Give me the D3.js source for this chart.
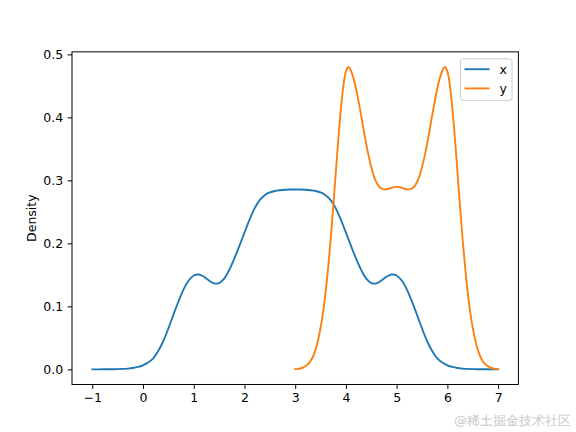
<!DOCTYPE html>
<html>
<head>
<meta charset="utf-8">
<script src="https://cdn.jsdelivr.net/npm/d3@7"></script>
<style>
  html, body { margin: 0; padding: 0; background: #fff; }
  svg { display: block; }
  text { font-family: "DejaVu Sans", sans-serif; }
</style>
</head>
<body>
<div id="chart"></div>
<script>
// ---- data ----
const seriesNames = ["x", "y"];
const seriesColors = ["#1f77b4", "#ff7f0e"];

// series "x": evaluation grid and density
const xGrid = [-1.0,-0.9,-0.8,-0.7,-0.6,-0.5,-0.4,-0.3,-0.2,-0.1,
  0.0,0.1,0.2,0.3,0.4,0.5,0.6,0.7,0.8,0.9,
  1.0,1.1,1.2,1.3,1.4,1.5,1.6,1.7,1.8,1.9,
  2.0,2.1,2.2,2.3,2.4,2.5,2.6,2.7,2.8,2.9,
  3.0,3.1,3.2,3.3,3.4,3.5,3.6,3.7,3.8,3.9,
  4.0,4.1,4.2,4.3,4.4,4.5,4.6,4.7,4.8,4.9,
  5.0,5.1,5.2,5.3,5.4,5.5,5.6,5.7,5.8,5.9,
  6.0,6.1,6.2,6.3,6.4,6.5,6.6,6.7,6.8,6.9,7.0];
const xDensity = [0.0000,0.0000,0.0001,0.0001,0.0002,0.0004,0.0007,0.0012,0.0021,0.0038,
  0.0065,0.0108,0.0175,0.0290,0.0450,0.0650,0.0870,0.1080,0.1270,0.1410,
  0.1490,0.1505,0.1470,0.1410,0.1365,0.1370,0.1440,0.1580,0.1760,0.1960,
  0.2170,0.2375,0.2555,0.2685,0.2765,0.2808,0.2831,0.2843,0.2850,0.2854,
  0.2855,0.2854,0.2850,0.2843,0.2831,0.2808,0.2765,0.2685,0.2555,0.2375,
  0.2170,0.1960,0.1760,0.1580,0.1440,0.1370,0.1365,0.1410,0.1470,0.1505,
  0.1490,0.1410,0.1270,0.1080,0.0870,0.0650,0.0450,0.0290,0.0175,0.0108,
  0.0065,0.0038,0.0021,0.0012,0.0007,0.0004,0.0002,0.0001,0.0001,0.0000,0.0000];

// series "y": evaluation grid and density
const yGrid = [3.00,3.05,3.10,3.15,3.20,3.25,3.30,3.35,3.40,3.45,
  3.50,3.55,3.60,3.65,3.70,3.75,3.80,3.85,3.90,3.95,
  4.00,4.05,4.10,4.15,4.20,4.25,4.30,4.35,4.40,4.45,
  4.50,4.55,4.60,4.65,4.70,4.75,4.80,4.85,4.90,4.95,
  5.00,5.05,5.10,5.15,5.20,5.25,5.30,5.35,5.40,5.45,
  5.50,5.55,5.60,5.65,5.70,5.75,5.80,5.85,5.90,5.95,
  6.00,6.05,6.10,6.15,6.20,6.25,6.30,6.35,6.40,6.45,
  6.50,6.55,6.60,6.65,6.70,6.75,6.80,6.85,6.90,6.95,7.00];
const yDensity = [0.0003,0.0007,0.0014,0.0026,0.0050,0.0080,0.0130,0.0200,0.0310,0.0460,
  0.0660,0.0910,0.1230,0.1620,0.2070,0.2580,0.3120,0.3650,0.4130,0.4500,
  0.4730,0.4800,0.4740,0.4620,0.4450,0.4250,0.4030,0.3800,0.3580,0.3380,
  0.3210,0.3070,0.2970,0.2905,0.2870,0.2857,0.2858,0.2868,0.2882,0.2893,
  0.2897,0.2893,0.2882,0.2868,0.2858,0.2857,0.2870,0.2905,0.2970,0.3070,
  0.3210,0.3380,0.3580,0.3800,0.4030,0.4250,0.4450,0.4620,0.4740,0.4800,
  0.4730,0.4500,0.4130,0.3650,0.3120,0.2580,0.2070,0.1620,0.1230,0.0910,
  0.0660,0.0460,0.0310,0.0200,0.0130,0.0080,0.0050,0.0026,0.0014,0.0007,0.0003];

const xTicks = [-1, 0, 1, 2, 3, 4, 5, 6, 7];
const yTicks = [0.0, 0.1, 0.2, 0.3, 0.4, 0.5];
const yLabel = "Density";
const watermark = "@稀土掘金技术社区";

// ---- layout ----
const W = 576, H = 432;
const plot = { left: 72, right: 518.4, top: 51.84, bottom: 384.48 };

const svg = d3.select("#chart").append("svg")
  .attr("width", W).attr("height", H);

const allX = xGrid.concat(yGrid);
const xmin = d3.min(allX), xmax = d3.max(allX);
const xpad = (xmax - xmin) * 0.05;
const dmax = d3.max(xDensity.concat(yDensity));
const ypad = dmax * 0.05;

const x = d3.scaleLinear().domain([xmin - xpad, xmax + xpad]).range([plot.left, plot.right]);
const y = d3.scaleLinear().domain([0 - ypad, dmax + ypad]).range([plot.bottom, plot.top]);

const fmtX = d => (d < 0 ? "\u2212" + Math.abs(d) : String(d));

// axes
const xAxis = d3.axisBottom(x).tickValues(xTicks).tickSize(4.4).tickPadding(4.4).tickFormat(fmtX);
const yAxis = d3.axisLeft(y).tickValues(yTicks).tickSize(4.4).tickPadding(4.4).tickFormat(d3.format(".1f"));

const gx = svg.append("g").attr("transform", `translate(0,${plot.bottom})`).call(xAxis);
const gy = svg.append("g").attr("transform", `translate(${plot.left},0)`).call(yAxis);
[gx, gy].forEach(g => {
  g.select(".domain").remove();
  g.selectAll(".tick line").attr("stroke", "#000").attr("stroke-width", 1);
  g.selectAll(".tick text").attr("fill", "#000").attr("font-size", 12.5)
    .attr("font-family", "DejaVu Sans, sans-serif");
});

// series lines
const line = d3.line().x(d => x(d[0])).y(d => y(d[1])).curve(d3.curveCatmullRom);
const series = [
  xGrid.map((g, i) => [g, xDensity[i]]),
  yGrid.map((g, i) => [g, yDensity[i]])
];
svg.append("defs").append("clipPath").attr("id", "clip")
  .append("rect").attr("x", plot.left).attr("y", plot.top)
  .attr("width", plot.right - plot.left).attr("height", plot.bottom - plot.top);
series.forEach((s, i) => {
  svg.append("path").datum(s)
    .attr("clip-path", "url(#clip)")
    .attr("fill", "none")
    .attr("stroke", seriesColors[i])
    .attr("stroke-width", 1.875)
    .attr("stroke-linejoin", "round")
    .attr("stroke-linecap", "square")
    .attr("d", line);
});

// frame
svg.append("rect")
  .attr("x", plot.left).attr("y", plot.top)
  .attr("width", plot.right - plot.left).attr("height", plot.bottom - plot.top)
  .attr("fill", "none").attr("stroke", "#000").attr("stroke-width", 1);

// y label
svg.append("text")
  .attr("transform", `translate(36,${(plot.top + plot.bottom) / 2}) rotate(-90)`)
  .attr("text-anchor", "middle")
  .attr("font-size", 12.5)
  .attr("fill", "#000")
  .text(yLabel);

// legend
const lg = svg.append("g");
lg.append("rect")
  .attr("x", 460.5).attr("y", 58.8).attr("width", 51.5).attr("height", 41.5)
  .attr("rx", 2.5).attr("ry", 2.5)
  .attr("fill", "#fff").attr("fill-opacity", 0.8)
  .attr("stroke", "#cccccc").attr("stroke-width", 1);
seriesNames.forEach((name, i) => {
  const cy = 69.2 + i * 19.2;
  lg.append("line").attr("x1", 464.5).attr("x2", 489.5).attr("y1", cy).attr("y2", cy)
    .attr("stroke", seriesColors[i]).attr("stroke-width", 1.875);
  lg.append("text").attr("x", 499.5).attr("y", cy + 4.3)
    .attr("font-size", 12.5).attr("fill", "#000").text(name);
});

// watermark
svg.append("text")
  .attr("x", 571).attr("y", 425)
  .attr("text-anchor", "end")
  .attr("font-size", 13)
  .attr("font-family", "Noto Sans CJK SC, sans-serif")
  .attr("fill", "#c8c8c8")
  .text(watermark);
</script>
</body>
</html>
